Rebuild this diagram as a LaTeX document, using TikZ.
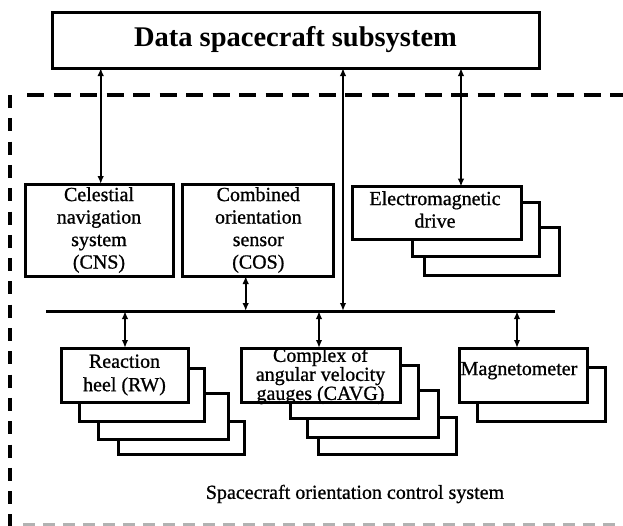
\documentclass[tikz,border=0pt]{standalone}
\usepackage{fontspec}
\setmainfont{Liberation Serif}
\newfontfamily\heavyserif[FakeBold=0.9]{Liberation Serif}
\usetikzlibrary{arrows.meta}
\begin{document}
\begin{tikzpicture}[x=1pt,y=-1pt,
  box/.style={draw,line width=3pt,fill=white,inner sep=0pt,outer sep=0pt,align=center,
    font=\heavyserif\fontsize{20}{22.5}\selectfont},
  stackbox/.style={draw,line width=3pt,fill=white,inner sep=0pt,outer sep=0pt},
  conn/.style={line width=2pt,{Latex[length=8pt,width=6.5pt]}-{Latex[length=8pt,width=6.5pt]}},
  busline/.style={line width=3pt},
  framedash/.style={line width=4pt,dash pattern=on 17pt off 9.5pt},
  framedashv/.style={line width=4pt,dash pattern=on 13pt off 10.3pt},
  lbl/.style={inner sep=0pt,font=\heavyserif\fontsize{20}{22.5}\selectfont}]
\useasboundingbox (0,0) rectangle (623,525);

% dashed frame of the orientation control system
\coordinate (ft1) at (27,95);
\coordinate (ft2) at (623,95);
\coordinate (fl1) at (10,95);
\coordinate (fl2) at (10,526);
\coordinate (fb1) at (23,524);
\coordinate (fb2) at (623,524);
\draw[framedash] (ft1) -- (ft2);
\draw[framedashv] (fl1) -- (fl2);
\draw[line width=3pt,gray!60,dash pattern=on 12pt off 8pt] (fb1) -- (fb2);

% top box
\node[box,minimum width=487pt,minimum height=56pt,font=\fontsize{28.5}{30}\selectfont\bfseries]
  (dss) at (295.5,40) {Data spacecraft subsystem};

% upper row
\node[box,minimum width=148pt,minimum height=92pt] (cns) at (99,230)
  {Celestial\\navigation\\system\\(CNS)};
\node[box,minimum width=151.3pt,minimum height=92pt] (cos) at (258.3,230)
  {Combined\\orientation\\sensor\\(COS)};
\node[stackbox,minimum width=135pt,minimum height=48pt] (em3) at (492.2,251.7) {};
\node[stackbox,minimum width=127pt,minimum height=54pt] (em2) at (475.5,229.7) {};
\node[box,minimum width=168.6pt,minimum height=53.3pt] (em) at (437,213.3) {};
\node[lbl,align=center] (emt) at (435,209.5) {Electromagnetic\\drive};

% bus
\coordinate (busL) at (46,311);
\coordinate (busR) at (555,311);
\draw[busline] (busL) -- (busR);

% lower row: reaction wheels
\node[stackbox,minimum width=126pt,minimum height=33pt] (rw4) at (181,437.5) {};
\node[stackbox,minimum width=130pt,minimum height=46pt] (rw3) at (163,416) {};
\node[stackbox,minimum width=125pt,minimum height=53pt] (rw2) at (141.5,394.5) {};
\node[box,minimum width=127pt,minimum height=54pt,font=\heavyserif\fontsize{20}{23.4}\selectfont] (rw) at (124.5,375)
  {Reaction\\heel (RW)};

% CAVG
\node[stackbox,minimum width=138pt,minimum height=37pt] (cv4) at (387,435.5) {};
\node[stackbox,minimum width=131pt,minimum height=47pt] (cv3) at (372.5,413.5) {};
\node[stackbox,minimum width=128pt,minimum height=53pt] (cv2) at (354,391.5) {};
\node[box,minimum width=159pt,minimum height=54pt] (cv) at (320.5,375) {};
\node[lbl,align=center,font=\heavyserif\fontsize{20}{19}\selectfont] (cvt) at (320.5,376)
  {Complex of\\angular velocity\\gauges (CAVG)};
\draw[line width=3pt] (cv.north west) -- (cv.north east);

% Magnetometer
\node[stackbox,minimum width=128pt,minimum height=54pt] (mg2) at (541,394) {};
\node[box,minimum width=128pt,minimum height=54pt] (mg) at (523,375) {};
\node[lbl] (mgt) at (519,370.7) {Magnetometer};

% connectors
\coordinate (xa) at (100.7,0);
\coordinate (xb) at (343,0);
\coordinate (xc) at (461,0);
\coordinate (xd) at (245.7,0);
\coordinate (xe) at (125,0);
\coordinate (xf) at (319,0);
\coordinate (xg) at (517,0);
\draw[conn] (xa |- dss.south) -- (xa |- cns.north);
\draw[conn] (xb |- dss.south) -- (xb |- busL);
\draw[conn] (xc |- dss.south) -- (xc |- em.north);
\draw[conn] (xd |- cos.south) -- (xd |- busL);
\draw[conn] (xe |- busL) -- (xe |- rw.north);
\draw[conn] (xf |- busL) -- (xf |- cv.north);
\draw[conn] (xg |- busL) -- (xg |- mg.north);

% caption
\node[lbl] (cap) at (355,494) {Spacecraft orientation control system};
\end{tikzpicture}
\end{document}
